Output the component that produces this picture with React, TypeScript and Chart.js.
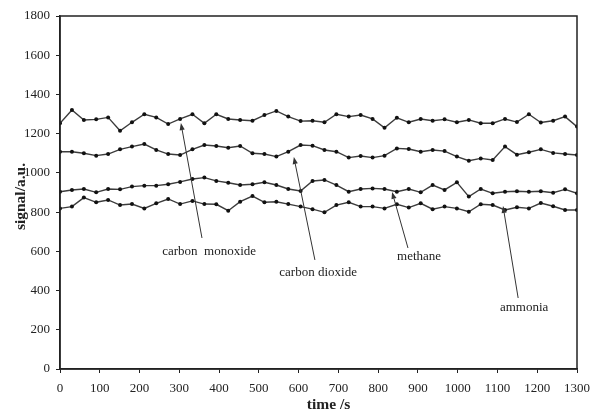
import React, { useEffect, useRef } from "react";
import { Chart, registerables } from "chart.js";

Chart.register(...registerables);

// time axis (s)
const times = [
  0, 30, 60, 91, 121, 151, 181, 212, 242, 272, 302, 333, 363, 393, 423, 453, 484, 514, 544, 574, 605, 635,
  665, 695, 726, 756, 786, 816, 847, 877, 907, 937, 967, 998, 1028, 1058, 1088, 1119, 1149, 1179, 1209, 1240,
  1270, 1300,
];

const carbonMonoxide = [
  1253, 1321, 1270, 1273, 1283, 1215, 1258, 1299, 1283, 1249, 1275, 1299, 1253, 1299, 1275, 1270, 1266, 1295,
  1316, 1287, 1264, 1266, 1258, 1299, 1287, 1295, 1275, 1230, 1281, 1258, 1275, 1266, 1273, 1258, 1270, 1253,
  1253, 1275, 1259, 1299, 1257, 1266, 1287, 1236,
];

const carbonDioxide = [
  1108, 1108, 1100, 1088, 1096, 1120, 1134, 1147, 1117, 1096, 1091, 1120, 1142, 1137, 1128, 1137, 1100, 1096,
  1083, 1108, 1142, 1139, 1117, 1108, 1078, 1086, 1078, 1088, 1125, 1122, 1108, 1117, 1111, 1083, 1062, 1074,
  1066, 1134, 1093, 1105, 1120, 1102, 1096, 1091,
];

const methane = [
  904, 913, 918, 901, 918, 916, 930, 935, 935, 942, 954, 969, 976, 959, 950, 938, 942, 952, 938, 918, 908, 959,
  964, 938, 904, 918, 921, 918, 904, 918, 901, 938, 913, 952, 879, 918, 896, 904, 906, 904, 906, 899, 916, 896,
];

const ammonia = [
  819, 828, 874, 850, 862, 836, 841, 819, 845, 867, 841, 857, 841, 840, 807, 853, 882, 850, 853, 841, 828, 815,
  799, 836, 850, 828, 828, 819, 840, 823, 845, 815, 828, 819, 802, 840, 836, 811, 825, 819, 846, 830, 811, 811,
];

const xTicksMin = 0;
const xTicksMax = 1300;
const xTickStep = 100;
const yTicksMin = 0;
const yTicksMax = 1800;
const yTickStep = 200;

const xTitle = "time /s";
const yTitle = "signal/a.u.";

// annotations (data coordinates)
const noteLabels = ["carbon  monoxide", "carbon dioxide", "methane", "ammonia"];
const noteTextX = [375, 649, 903, 1167];
const noteTextY = [597, 490, 571, 311];
const arrowTipX = [304, 588, 835, 1114];
const arrowTipY = [1254, 1081, 903, 831];
const arrowBaseX = [357, 641, 875, 1152];
const arrowBaseY = [668, 556, 617, 362];

const SERIF = "'Liberation Serif', 'Times New Roman', serif";
const INK = "#222";

export default function App() {
  const ref = useRef<HTMLCanvasElement>(null);

  useEffect(() => {
    document.body.style.margin = "0";
    const canvas = ref.current!;

    const mk = (label: string, vals: number[]) => ({
      label,
      data: times.map((t, i) => ({ x: t, y: vals[i] })),
      borderColor: "#3c3c3c",
      borderWidth: 1.4,
      pointRadius: 2,
      pointHoverRadius: 2,
      pointBackgroundColor: "#111",
      pointBorderColor: "#111",
      pointBorderWidth: 0,
      tension: 0,
      fill: false,
    });

    const frame = {
      id: "frame",
      afterDraw(chart: any) {
        const { ctx, chartArea: a } = chart;
        ctx.save();
        ctx.strokeStyle = INK;
        ctx.lineWidth = 1.5;
        ctx.strokeRect(a.left, a.top, a.right - a.left, a.bottom - a.top);
        // axis titles
        ctx.fillStyle = INK;
        ctx.font = `bold 15.5px ${SERIF}`;
        ctx.textAlign = "center";
        ctx.textBaseline = "middle";
        ctx.fillText(xTitle, (a.left + a.right) / 2 + 10, 405);
        ctx.translate(21, (a.top + a.bottom) / 2 + 4);
        ctx.rotate(-Math.PI / 2);
        ctx.fillText(yTitle, 0, 0);
        ctx.restore();
      },
    };

    const notes = {
      id: "notes",
      afterDatasetsDraw(chart: any) {
        const { ctx } = chart;
        const xs = chart.scales.x;
        const ys = chart.scales.y;
        ctx.save();
        ctx.lineWidth = 1;
        for (let i = 0; i < noteLabels.length; i++) {
          const tx = xs.getPixelForValue(arrowTipX[i]);
          const ty = ys.getPixelForValue(arrowTipY[i]);
          const bx = xs.getPixelForValue(arrowBaseX[i]);
          const by = ys.getPixelForValue(arrowBaseY[i]);
          const ang = Math.atan2(ty - by, tx - bx);
          const hl = 7;
          const hw = 2.6;
          const hx = tx - hl * Math.cos(ang);
          const hy = ty - hl * Math.sin(ang);
          ctx.strokeStyle = "#333";
          ctx.fillStyle = "#333";
          ctx.beginPath();
          ctx.moveTo(bx, by);
          ctx.lineTo(hx, hy);
          ctx.stroke();
          ctx.beginPath();
          ctx.moveTo(tx, ty);
          ctx.lineTo(hx + hw * Math.sin(ang), hy - hw * Math.cos(ang));
          ctx.lineTo(hx - hw * Math.sin(ang), hy + hw * Math.cos(ang));
          ctx.closePath();
          ctx.fill();
          ctx.font = `13px ${SERIF}`;
          ctx.textAlign = "center";
          ctx.textBaseline = "middle";
          ctx.fillStyle = INK;
          ctx.fillText(noteLabels[i], xs.getPixelForValue(noteTextX[i]), ys.getPixelForValue(noteTextY[i]));
        }
        ctx.restore();
      },
    };

    const plain = (v: any) => String(v);

    const chart = new Chart(canvas, {
      type: "line",
      data: {
        datasets: [
          mk("carbon monoxide", carbonMonoxide),
          mk("carbon dioxide", carbonDioxide),
          mk("methane", methane),
          mk("ammonia", ammonia),
        ],
      },
      options: {
        animation: false,
        responsive: false,
        maintainAspectRatio: false,
        layout: { padding: { top: 16, right: 36, left: 0, bottom: 0 } },
        plugins: { legend: { display: false }, tooltip: { enabled: false } },
        scales: {
          x: {
            type: "linear",
            min: xTicksMin,
            max: xTicksMax,
            ticks: {
              stepSize: xTickStep,
              autoSkip: false,
              maxRotation: 0,
              padding: 8,
              color: INK,
              font: { family: SERIF, size: 13 },
              callback: plain,
            },
            grid: { display: true, drawOnChartArea: false, tickLength: 4, color: INK },
            border: { display: true, color: INK, width: 1.5 },
            afterFit(s: any) {
              s.height = 45;
            },
          },
          y: {
            type: "linear",
            min: yTicksMin,
            max: yTicksMax,
            ticks: {
              stepSize: yTickStep,
              padding: 6,
              color: INK,
              font: { family: SERIF, size: 13 },
              callback: plain,
            },
            grid: { display: true, drawOnChartArea: false, tickLength: 4, color: INK },
            border: { display: true, color: INK, width: 1.5 },
            afterFit(s: any) {
              s.width = 60;
            },
          },
        },
      },
      plugins: [frame, notes],
    } as any);

    return () => chart.destroy();
  }, []);

  return (
    <div style={{ position: "absolute", left: 0, top: 0, width: 613, height: 414, background: "#fff" }}>
      <canvas ref={ref} width={613} height={414} style={{ width: 613, height: 414, display: "block" }} />
    </div>
  );
}
